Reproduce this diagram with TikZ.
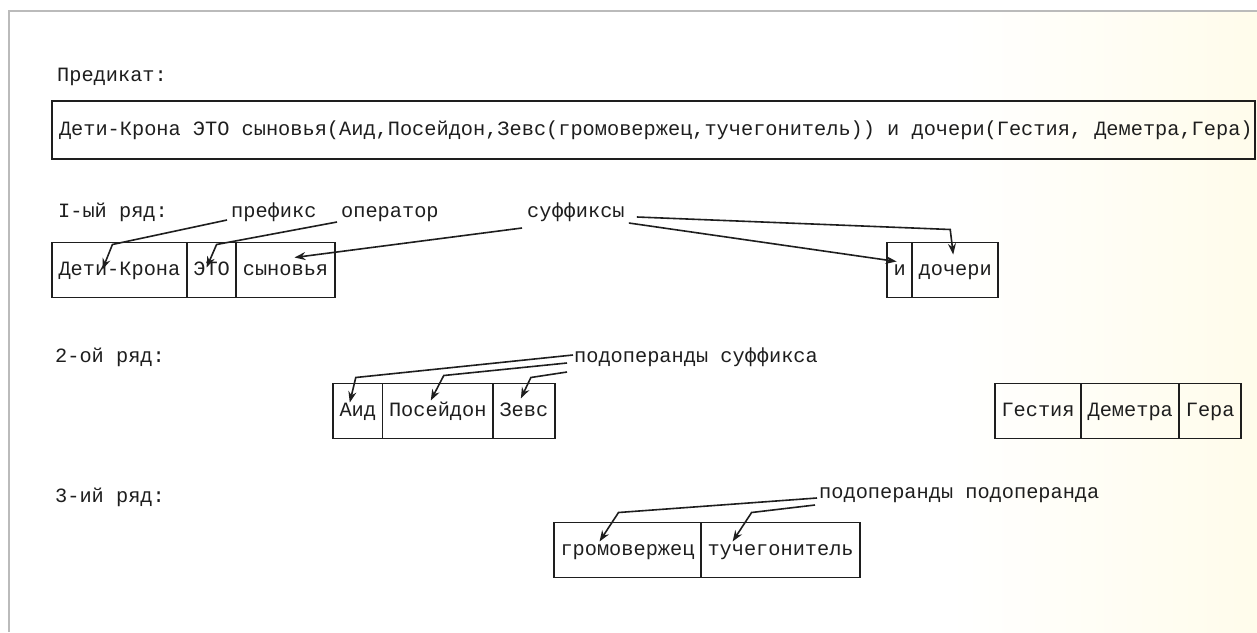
\documentclass[tikz,border=0pt]{standalone}
\usepackage{fontspec}
\setmonofont{Liberation Mono}
\usetikzlibrary{positioning, arrows.meta}
\definecolor{ink}{HTML}{1E1E1E}
\definecolor{framegray}{HTML}{BBBBBB}
\definecolor{paper}{HTML}{FFFCEB}
\newcommand{\typed}{\ttfamily\fontsize{20.3}{24}\selectfont}
\tikzset{
  lbl/.style={inner sep=0pt, font=\typed, text=ink, text height=14pt, text depth=4pt, anchor=west},
  cell/.style={draw=ink, line width=1.8pt, outer sep=0pt, inner xsep=6.5pt, minimum height=55pt,
    text height=14pt, text depth=4pt, font=\typed, text=ink},
  predbox/.style={draw=ink, line width=2.2pt, outer sep=0pt, inner xsep=7pt, minimum height=58pt,
    text height=14pt, text depth=4pt, font=\typed, text=ink, anchor=west},
  ptr/.style={draw=ink, line width=1.6pt, -{Stealth[length=11pt,width=8pt]}},
}

\begin{document}
\begin{tikzpicture}[x=1pt, y=-1pt]
  \useasboundingbox (0,0) rectangle (1257,632);
  % paper and scan frame
  \fill[white] (0,0) rectangle (1257,632);
  \shade[left color=white, right color=paper] (950,11) rectangle (1257,632);
  \draw[framegray, line width=2.5pt] (9,632) -- (9,11) -- (1257,11);

  % predicate
  \node[lbl] (predlbl) at (57,76) {Предикат:};
  \node[predbox] (pred) at (52,130) {\makebox[1189pt][l]{Дети-Крона ЭТО сыновья(Аид,Посейдон,Зевс(громовержец,тучегонитель)) и дочери(Гестия, Деметра,Гера)}};

  % row 1
  \node[lbl] (row1) at (58,212) {I-ый ряд:};
  \node[lbl] (pref) at (231,212) {префикс};
  \node[lbl] (oper) at (341,212) {оператор};
  \node[lbl] (suff) at (527,212) {суффиксы};
  \node[cell, anchor=west] (dk) at (52,270) {Дети-Крона};
  \node[cell, right=0pt of dk] (eto) {ЭТО};
  \node[cell, right=0pt of eto] (syn) {сыновья};
  \node[cell, anchor=west] (ii) at (887,270) {и};
  \node[cell, right=0pt of ii] (doch) {дочери};
  \draw[ptr] ([shift={(-4,8)}]pref.west) -- ([shift={(-7,2)}]dk.north) -- ([shift={(-17,27)}]dk.north);
  \draw[ptr] ([shift={(-4,10)}]oper.west) -- ([shift={(5,2)}]eto.north) -- ([shift={(-5,25)}]eto.north);
  \draw[ptr] ([shift={(-5,16)}]suff.west) -- ([shift={(9,15)}]syn.north);
  \draw[ptr] ([shift={(12,5)}]suff.east) -- ([shift={(-5,-13)}]doch.north) -- ([shift={(-2,12)}]doch.north);
  \draw[ptr] ([shift={(4,11)}]suff.east) -- ([shift={(-3,19)}]ii.north);

  % row 2
  \node[lbl] (row2) at (55,357) {2-ой ряд:};
  \node[lbl] (ssuf) at (574,357) {подоперанды суффикса};
  \node[cell, anchor=west] (aid) at (333,411) {Аид};
  \node[cell, right=0pt of aid] (pos) {Посейдон};
  \node[cell, right=0pt of pos] (zevs) {Зевс};
  \node[cell, anchor=west] (gest) at (995,411) {Гестия};
  \node[cell, right=0pt of gest] (dem) {Деметра};
  \node[cell, right=0pt of dem] (gera) {Гера};
  \draw[ptr] ([shift={(-1,-2)}]ssuf.west) -- ([shift={(-2,-6)}]aid.north) -- ([shift={(-8,19)}]aid.north);
  \draw[ptr] ([shift={(-7,6)}]ssuf.west) -- ([shift={(6,-8)}]pos.north) -- ([shift={(-7,17)}]pos.north);
  \draw[ptr] ([shift={(-7,15)}]ssuf.west) -- ([shift={(7,-6)}]zevs.north) -- ([shift={(-3,15)}]zevs.north);

  % row 3
  \node[lbl] (row3) at (55,497) {3-ий ряд:};
  \node[lbl] (spod) at (819,493) {подоперанды подоперанда};
  \node[cell, anchor=west] (grom) at (554,550) {громовержец};
  \node[cell, right=0pt of grom] (tuch) {тучегонитель};
  \draw[ptr] ([shift={(-2,5)}]spod.west) -- ([shift={(-9,-10)}]grom.north) -- ([shift={(-28,19)}]grom.north);
  \draw[ptr] ([shift={(-4,12)}]spod.west) -- ([shift={(-29,-10)}]tuch.north) -- ([shift={(-48,19)}]tuch.north);
\end{tikzpicture}
\end{document}
